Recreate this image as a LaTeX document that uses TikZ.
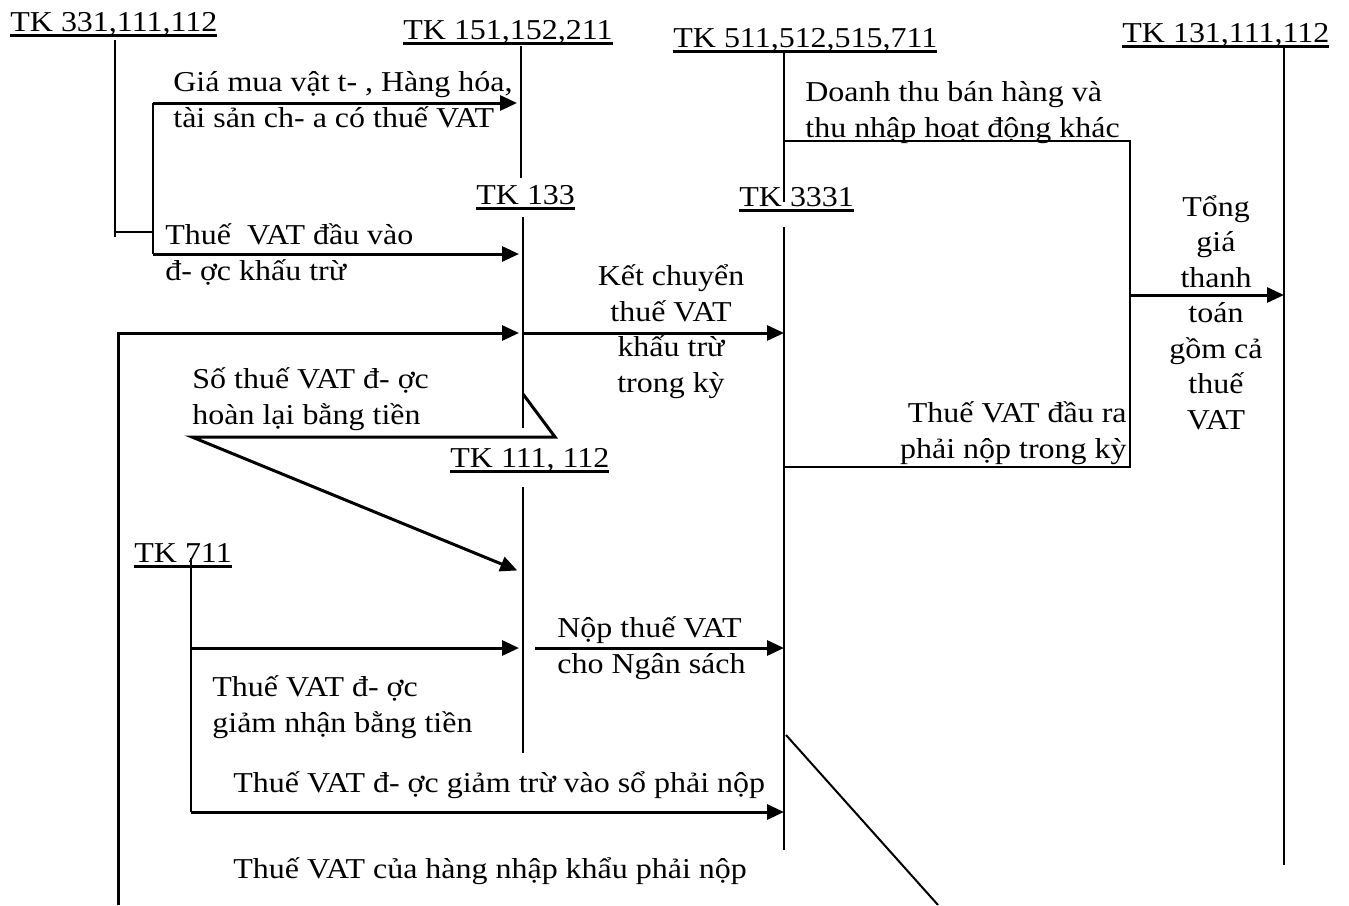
\documentclass[tikz,border=0pt]{standalone}
\usepackage{fontspec}
\setmainfont{Liberation Serif}[FakeStretch=1.11]
\usetikzlibrary{arrows.meta}
\newcommand\tkul[1]{\setbox0\hbox{#1}\rlap{\rule[-3pt]{\wd0}{1.4pt}}\box0}

\begin{document}
\begin{tikzpicture}[x=0.5pt, y=-0.5pt,
  txt/.style={inner sep=0pt, anchor=base west, align=left,
              font=\fontsize{14.4}{17.75}\selectfont},
  ctxt/.style={txt, anchor=base, align=center},
  rtxt/.style={txt, anchor=base east, align=right},
  acct/.style={line width=1pt},
  link/.style={line width=1.3pt},
  flow/.style={line width=1.5pt, -{Triangle[length=8.5pt,width=7.5pt]}},
  flowin/.style={flow, shorten >=2pt},
]
\useasboundingbox[fill=white] (0,0) rectangle (1349,905);

% account titles
\node[txt] (k331) at (10,31) {\tkul{TK 331,111,112}};
\node[txt] (k151) at (403,39) {\tkul{TK 151,152,211}};
\node[txt] (k511) at (673,47) {\tkul{TK 511,512,515,711}};
\node[txt] (k131) at (1122,42) {\tkul{TK 131,111,112}};
\node[txt] (k133) at (476,204) {\tkul{TK 133}};
\node[txt] (k3331) at (739,206) {\tkul{TK 3331}};
\node[txt] (k111) at (450,467) {\tkul{TK 111, 112}};
\node[txt] (k711) at (134,562) {\tkul{TK 711}};

% ends of the account lines
\coordinate (t331) at (115,40);   \coordinate (b331) at (115,237);
\coordinate (t151) at (521,46);   \coordinate (b151) at (521,178);
\coordinate (t133) at (523,217);  \coordinate (b133) at (523,428);
\coordinate (t111) at (523,487);  \coordinate (b111) at (523,753);
\coordinate (t711) at (191,558);  \coordinate (b711) at (191,812);
\coordinate (t511) at (784,53);   \coordinate (b511) at (784,202);
\coordinate (t3331) at (784,227); \coordinate (b3331) at (784,850);
\coordinate (t131) at (1284,45);  \coordinate (b131) at (1284,865);

\foreach \a in {331,151,133,111,711,511,3331,131}
  \draw[acct] (t\a) -- (b\a);

% purchases
\coordinate (j331) at (153,232);
\coordinate (g1) at (153,103);
\coordinate (g2) at (153,254);
\draw[link] (b331 |- j331) -- (j331);
\draw[link] (g1) -- (g2);
\draw[flowin] (g1) -- (g1 -| t151);
\draw[flowin] (g2) -- (g2 -| t133);

% imports and transfer
\coordinate (lb) at (118,905);
\coordinate (lt) at (118,333);
\draw[flowin] (lb) -- (lt) -- (lt -| t133);
\draw[flow] (lt -| t133) -- (lt -| t3331);

% refund
\coordinate (r1) at (523,394);
\coordinate (r2) at (555,437);
\coordinate (r3) at (192,437);
\coordinate (r4) at (521,572);
\draw[flowin] (r1) -- (r2) -- (r3) -- (r4);

% reductions and payment
\coordinate (n1) at (191,648);
\coordinate (n2) at (535,648);
\draw[flowin] (n1) -- (n1 -| t111);
\draw[flow] (n2) -- (n2 -| t3331);
\draw[flow] (b711) -- (b711 -| t3331);

% sales
\coordinate (d1) at (784,141);
\coordinate (d2) at (1130,141);
\coordinate (d3) at (1130,467);
\coordinate (d4) at (784,467);
\coordinate (s1) at (1130,295);
\draw[link] (d1) -- (d2) -- (d3) -- (d4);
\draw[flow] (s1) -- (s1 -| t131);

\coordinate (x1) at (786,735);
\coordinate (x2) at (938,905);
\draw[acct] (x1) -- (x2);

% texts (base = last line)
\node[txt] (gia) at (173,127) {Giá mua vật t- , Hàng hóa,\\tài sản ch- a có thuế VAT};
\node[txt] (dauvao) at (165,280) {Thuế~ VAT đầu vào\\đ- ợc khấu trừ};
\node[ctxt] (ketchuyen) at (671,392) {Kết chuyển\\thuế VAT\\khấu trừ\\trong kỳ};
\node[txt] (doanhthu) at (805,137) {Doanh thu bán hàng và\\thu nhập hoạt động khác};
\node[rtxt] (daura) at (1127,458) {Thuế VAT đầu ra\\phải nộp trong kỳ};
\node[ctxt] (tong) at (1216,429) {Tổng\\giá\\thanh\\toán\\gồm cả\\thuế\\VAT};
\node[txt] (hoanlai) at (192,424) {Số thuế VAT đ- ợc\\hoàn lại bằng tiền};
\node[txt] (giamtien) at (212,732) {Thuế VAT đ- ợc\\giảm nhận bằng tiền};
\node[txt] (nop) at (557,673) {Nộp thuế VAT\\cho Ngân sách};
\node[txt] (giamtru) at (233,792) {Thuế VAT đ- ợc giảm trừ vào sổ phải nộp};
\node[txt] (nhapkhau) at (233,878) {Thuế VAT của hàng nhập khẩu phải nộp};
\end{tikzpicture}
\end{document}
